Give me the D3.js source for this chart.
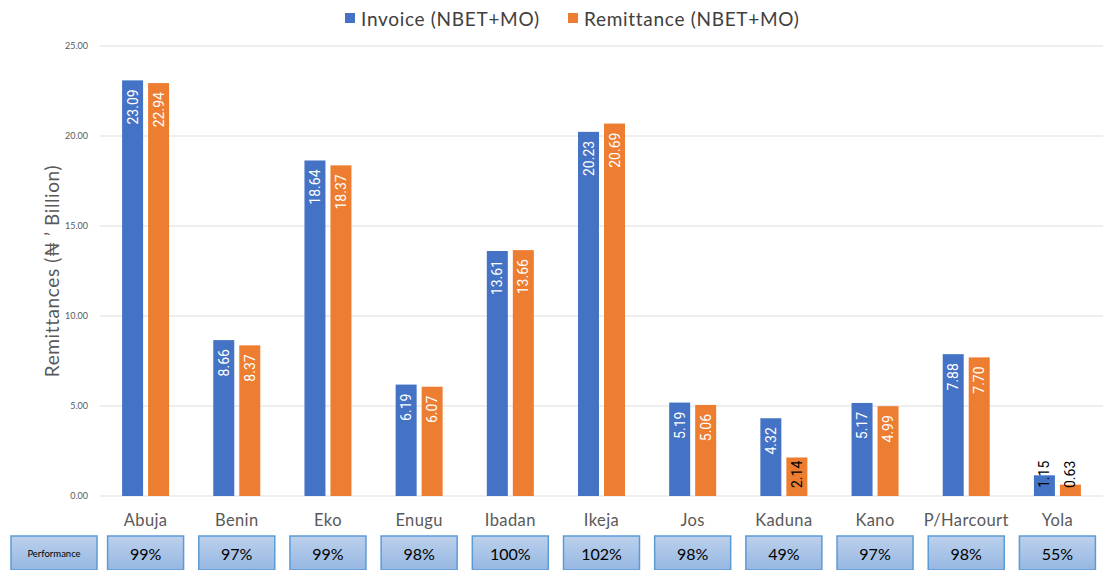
<!DOCTYPE html>
<html>
<head>
<meta charset="utf-8">
<script src="https://cdn.jsdelivr.net/npm/d3@7"></script>
<style>
  body { margin: 0; background: #fff; }
  svg { display: block; }
</style>
</head>
<body>
<svg id="chart" width="1108" height="570"></svg>
<script>
// Distribution companies
const categories = ["Abuja", "Benin", "Eko", "Enugu", "Ibadan", "Ikeja", "Jos", "Kaduna", "Kano", "P/Harcourt", "Yola"];
// Invoice (NBET+MO), ₦ billion
const invoice = [23.09, 8.66, 18.64, 6.19, 13.61, 20.23, 5.19, 4.32, 5.17, 7.88, 1.15];
// Remittance (NBET+MO), ₦ billion
const remittance = [22.94, 8.37, 18.37, 6.07, 13.66, 20.69, 5.06, 2.14, 4.99, 7.70, 0.63];
// Remittance performance
const performance = ["99%", "97%", "99%", "98%", "100%", "102%", "98%", "49%", "97%", "98%", "55%"];
const yTicks = [0, 5, 10, 15, 20, 25];
const seriesNames = ["Invoice (NBET+MO)", "Remittance (NBET+MO)"];
const seriesColors = ["#4472c4", "#ed7d31"];

const font = "Lato, 'Open Sans', sans-serif";
const svg = d3.select("#chart");

const margin = { left: 100, right: 5, top: 46, bottom: 74 };
const W = 1108, H = 570;
const x = d3.scaleBand().domain(categories).range([margin.left, W - margin.right]).padding(0);
const y = d3.scaleLinear().domain([0, 25]).range([H - margin.bottom, margin.top]);

const barW = 21, gap = 5;

// Gridlines and y ticks
const yAxis = d3.axisLeft(y).tickValues(yTicks).tickFormat(d3.format(".2f")).tickSize(0).tickPadding(12);
const gy = svg.append("g").attr("transform", `translate(${margin.left},0)`).call(yAxis);
gy.select(".domain").remove();
gy.selectAll("text").attr("font-family", font).attr("font-size", 9).attr("fill", "#595959");
svg.append("g").selectAll("line").data(yTicks).join("line")
  .attr("x1", margin.left).attr("x2", W - margin.right)
  .attr("y1", d => y(d)).attr("y2", d => y(d))
  .attr("stroke", "#dedede").attr("stroke-width", 1.2);

// Y axis title
svg.append("text")
  .attr("transform", `translate(51,${(y(0) + y(25)) / 2}) rotate(-90)`)
  .attr("text-anchor", "middle").attr("dominant-baseline", "central")
  .attr("font-family", font).attr("font-size", 19).attr("letter-spacing", 0.6).attr("fill", "#595959")
  .text("Remittances (₦ ’ Billion)");

// Bars
const series = [invoice, remittance];
series.forEach((vals, si) => {
  const off = si === 0 ? -gap / 2 - barW : gap / 2;
  const g = svg.append("g");
  g.selectAll("rect").data(vals).join("rect")
    .attr("x", (d, i) => x(categories[i]) + x.bandwidth() / 2 + off)
    .attr("y", d => y(d))
    .attr("width", barW)
    .attr("height", d => y(0) - y(d))
    .attr("fill", seriesColors[si]);
  // Value labels, rotated inside bar tops
  g.selectAll("text").data(vals).join("text")
    .each(function (d, i) {
      const cx = x(categories[i]) + x.bandwidth() / 2 + off + barW / 2;
      const h = y(0) - y(d);
      const inside = h > 45;
      const ty = inside ? y(d) + 9 : y(0) - 8;
      d3.select(this)
        .attr("transform", `translate(${cx},${ty}) rotate(-90)`)
        .attr("text-anchor", inside ? "end" : "start")
        .attr("dominant-baseline", "central")
        .attr("fill", inside ? "#ffffff" : "#000000");
    })
    .attr("font-family", "Roboto, sans-serif").attr("font-size", 14)
    .text(d => d3.format(".2f")(d));
});

// Category labels
svg.append("g").selectAll("text").data(categories).join("text")
  .attr("x", d => x(d) + x.bandwidth() / 2)
  .attr("y", 520)
  .attr("text-anchor", "middle").attr("dominant-baseline", "central")
  .attr("font-family", font).attr("font-size", 16.5).attr("letter-spacing", 0.4).attr("fill", "#595959")
  .text(d => d);

// Legend
const legend = svg.append("g");
const legendX = [345, 568];
seriesNames.forEach((name, i) => {
  legend.append("rect").attr("x", legendX[i]).attr("y", 13).attr("width", 10).attr("height", 10).attr("fill", seriesColors[i]);
  legend.append("text").attr("x", legendX[i] + 16).attr("y", 18)
    .attr("dominant-baseline", "central")
    .attr("font-family", font).attr("font-size", 19).attr("letter-spacing", 0.7).attr("fill", "#404040")
    .text(name);
});

// Performance boxes
const defs = svg.append("defs");
const grad = defs.append("linearGradient").attr("id", "boxGrad").attr("x1", 0).attr("y1", 0).attr("x2", 0).attr("y2", 1);
grad.append("stop").attr("offset", "0%").attr("stop-color", "#bcd1ec");
grad.append("stop").attr("offset", "100%").attr("stop-color", "#96b7e2");

const boxW = 76, boxH = 34, boxY = 536;
svg.append("rect").attr("x", 11).attr("y", boxY).attr("width", 86).attr("height", boxH)
  .attr("fill", "url(#boxGrad)").attr("stroke", "#5b9bd5").attr("stroke-width", 1.5);
svg.append("text").attr("x", 54).attr("y", boxY + 17)
  .attr("text-anchor", "middle").attr("dominant-baseline", "central")
  .attr("font-family", font).attr("font-size", 9.5).attr("fill", "#000")
  .text("Performance");

const pg = svg.append("g");
pg.selectAll("rect").data(performance).join("rect")
  .attr("x", (d, i) => x(categories[i]) + x.bandwidth() / 2 - boxW / 2)
  .attr("y", boxY).attr("width", boxW).attr("height", boxH)
  .attr("fill", "url(#boxGrad)").attr("stroke", "#5b9bd5").attr("stroke-width", 1.5);
pg.selectAll("text").data(performance).join("text")
  .attr("x", (d, i) => x(categories[i]) + x.bandwidth() / 2)
  .attr("y", boxY + 17)
  .attr("text-anchor", "middle").attr("dominant-baseline", "central")
  .attr("font-family", font).attr("font-size", 16).attr("fill", "#000")
  .text(d => d);
</script>
</body>
</html>
